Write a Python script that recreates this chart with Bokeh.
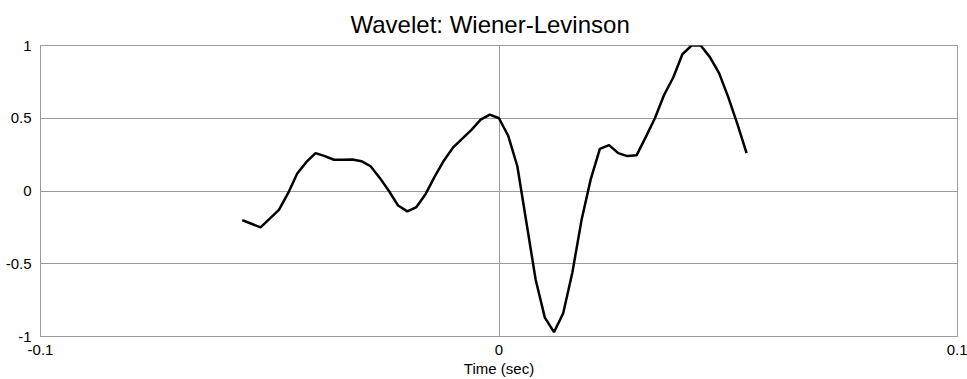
from bokeh.plotting import figure
from bokeh.models import FixedTicker, Range1d
from bokeh.embed import file_html
from bokeh.resources import INLINE

# Wavelet samples (time in seconds, normalised amplitude)
time_sec = [
    -0.056, -0.054, -0.052, -0.050, -0.048, -0.046, -0.044, -0.042,
    -0.040, -0.038, -0.036, -0.034, -0.032, -0.030, -0.028, -0.026,
    -0.024, -0.022, -0.020, -0.018, -0.016, -0.014, -0.012, -0.010,
    -0.008, -0.006, -0.004, -0.002, 0.000, 0.002, 0.004, 0.006,
    0.008, 0.010, 0.012, 0.014, 0.016, 0.018, 0.020, 0.022,
    0.024, 0.026, 0.028, 0.030, 0.032, 0.034, 0.036, 0.038,
    0.040, 0.042, 0.044, 0.046, 0.048, 0.050, 0.052, 0.054,
]
amplitude = [
    -0.20, -0.225, -0.25, -0.19, -0.13, -0.015, 0.12, 0.20,
    0.26, 0.24, 0.215, 0.215, 0.217, 0.205, 0.17, 0.09,
    0.00, -0.10, -0.14, -0.11, -0.02, 0.10, 0.21, 0.30,
    0.36, 0.42, 0.49, 0.525, 0.50, 0.38, 0.17, -0.22,
    -0.61, -0.87, -0.97, -0.84, -0.56, -0.20, 0.08, 0.29,
    0.315, 0.26, 0.24, 0.245, 0.37, 0.50, 0.66, 0.78,
    0.94, 1.00, 1.00, 0.92, 0.81, 0.645, 0.46, 0.26,
]

x_ticks = [-0.1, 0.0, 0.1]
x_tick_labels = ["-0.1", "0", "0.1"]
y_ticks = [-1.0, -0.5, 0.0, 0.5, 1.0]
y_tick_labels = ["-1", "-0.5", "0", "0.5", "1"]

FONT = "Liberation Sans"
GRID = "#9a9a9a"

p = figure(
    width=967, height=379,
    output_backend="svg", toolbar_location=None,
    x_range=Range1d(-0.1, 0.1), y_range=Range1d(-1, 1),
    min_border_left=40, min_border_right=10,
    min_border_top=45, min_border_bottom=42,
    title="Wavelet: Wiener-Levinson",
)

p.title.align = "left"
p.title.offset = 310
p.title.standoff = 16
p.title.text_font = FONT
p.title.text_font_size = "24px"
p.title.text_font_style = "normal"
p.title.text_color = "#000000"

p.outline_line_color = GRID
p.outline_line_width = 1
p.background_fill_color = "white"
p.border_fill_color = "white"

# Axes: no tick marks, only labels
for ax in (p.xaxis[0], p.yaxis[0]):
    ax.major_tick_line_color = None
    ax.minor_tick_line_color = None
    ax.axis_line_color = GRID
    ax.major_label_text_font = FONT
    ax.major_label_text_font_size = "15px"
    ax.major_label_text_color = "#000000"

p.xaxis.ticker = FixedTicker(ticks=x_ticks)
p.yaxis.ticker = FixedTicker(ticks=y_ticks)
p.xaxis.major_label_overrides = dict(zip(x_ticks, x_tick_labels))
p.yaxis.major_label_overrides = dict(zip(y_ticks, y_tick_labels))
p.xaxis.major_label_standoff = 2
p.yaxis.major_label_standoff = 3

p.xaxis.axis_label = "Time (sec)"
p.xaxis.axis_label_text_font = FONT
p.xaxis.axis_label_text_font_size = "15px"
p.xaxis.axis_label_text_font_style = "normal"
p.xaxis.axis_label_text_color = "#000000"
p.xaxis.axis_label_standoff = 2

p.xgrid.ticker = FixedTicker(ticks=x_ticks)
p.ygrid.ticker = FixedTicker(ticks=y_ticks)
p.grid.grid_line_color = GRID
p.grid.grid_line_width = 1

p.line(time_sec, amplitude, line_color="black", line_width=2.5)

open("out.html", "w").write(file_html(p, INLINE))
